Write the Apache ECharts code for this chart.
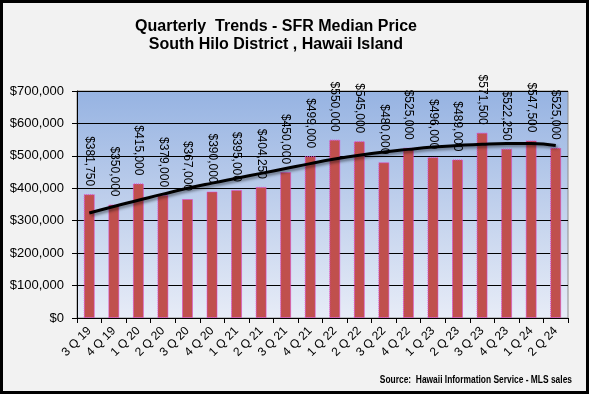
<!DOCTYPE html>
<html>
<head>
<meta charset="utf-8">
<script src="https://cdn.jsdelivr.net/npm/echarts@6/dist/echarts.min.js"></script>
<style>
html,body{margin:0;padding:0;background:#f2f2f2;}
#c{width:589px;height:394px;}
</style>
</head>
<body>
<div id="c"></div>
<script>
// Data
var categories = ['3 Q 19','4 Q 19','1 Q 20','2 Q 20','3 Q 20','4 Q 20','1 Q 21','2 Q 21','3 Q 21','4 Q 21',
  '1 Q 22','2 Q 22','3 Q 22','4 Q 22','1 Q 23','2 Q 23','3 Q 23','4 Q 23','1 Q 24','2 Q 24'];
var medianPrice = [381750,350000,415000,379000,367000,390000,395000,404250,450000,499000,
  550000,545000,480000,525000,496000,489000,571500,522250,547500,525000];
// trend line values
var trendValues = [324000,344000,363000,382000,400000,416000,431000,446000,461000,476000,
  490000,502000,512000,520000,527000,532000,536000,538000,538000,532000];
var yTicks = [0,100000,200000,300000,400000,500000,600000,700000];

function money(v){
  return '$' + String(v).replace(/\B(?=(\d{3})+(?!\d))/g, ',');
}

var chart = echarts.init(document.getElementById('c'), null, {renderer:'canvas'});
chart.setOption({
  backgroundColor:'#f2f2f2',
  animation:false,
  textStyle:{fontFamily:'Liberation Sans, Arial, sans-serif'},
  title:{
    text:'Quarterly  Trends - SFR Median Price\nSouth Hilo District , Hawaii Island',
    left:271, top:13, textAlign:'center',
    textStyle:{fontSize:16, fontWeight:'bold', color:'#000', lineHeight:18, fontFamily:'Liberation Sans, Arial, sans-serif'}
  },
  grid:{left:77, right:21, top:91, bottom:76, show:true, borderColor:'#8c8c8c', borderWidth:1,
    backgroundColor:{type:'linear', x:0, y:0, x2:0, y2:1, colorStops:[
      {offset:0, color:'#96b3e2'},{offset:0.5, color:'#c0d0ec'},{offset:1, color:'#e7ecf7'}]}},
  xAxis:{
    type:'category', data:categories, boundaryGap:true,
    axisLine:{lineStyle:{color:'#000', width:1}},
    axisTick:{show:true, alignWithLabel:false, length:5, lineStyle:{color:'#000'}},
    axisLabel:{interval:0, rotate:45, fontSize:12, color:'#000', margin:11}
  },
  yAxis:{
    type:'value', min:yTicks[0], max:yTicks[yTicks.length-1], interval:yTicks[1]-yTicks[0],
    axisLine:{show:true, lineStyle:{color:'#000'}},
    axisTick:{show:true, length:5, lineStyle:{color:'#000'}},
    splitLine:{show:true, lineStyle:{color:'#000', width:1}},
    axisLabel:{fontSize:13, color:'#000', margin:13, formatter:function(v){return money(v);}}
  },
  series:[
    {
      type:'bar', data:medianPrice, barWidth:11, z:2,
      itemStyle:{color:'#c0504d', borderColor:'#e040d8', borderWidth:1, borderType:'dotted'},
      label:{show:true, position:'top', rotate:-90, align:'right', verticalAlign:'middle', distance:8,
        fontSize:12, color:'#000', formatter:function(p){return money(p.value);}}
    },
    {
      type:'line', data:trendValues, smooth:true, symbol:'none', z:5, silent:true,
      lineStyle:{color:'#000', width:3, shadowColor:'rgba(0,0,0,0.45)', shadowBlur:3, shadowOffsetX:2, shadowOffsetY:2}
    }
  ],
  graphic:[
    {type:'text', x:572, y:380, scaleX:0.765, z:10,
      style:{text:'Source:  Hawaii Information Service - MLS sales', align:'right', verticalAlign:'middle',
        font:'bold 11px "Liberation Sans", Arial, sans-serif', fill:'#000'}},
    {type:'rect', z:100, shape:{x:1.5, y:1.5, width:586, height:391},
      style:{fill:'none', stroke:'#000', lineWidth:3}}
  ]
});
</script>
</body>
</html>
